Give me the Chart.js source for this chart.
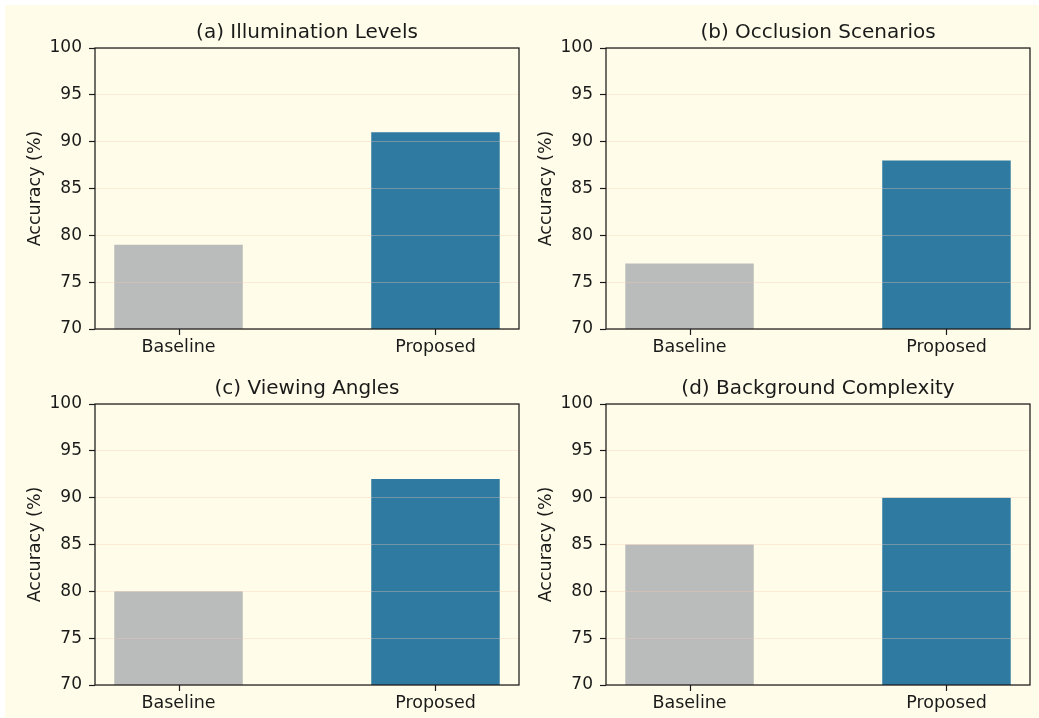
<!DOCTYPE html>
<html>
<head>
<meta charset="utf-8">
<script src="https://cdn.jsdelivr.net/npm/chart.js@4.4.1/dist/chart.umd.min.js"></script>
<style>
  html, body { margin: 0; padding: 0; background: #ffffff; }
  #bg { position: absolute; left: 5px; top: 5px; width: 1034px; height: 713px; background: #fffde9; }
  .panel { position: absolute; width: 520px; height: 357px; }
  .panel canvas { display: block; }
</style>
</head>
<body>
<div id="bg"></div>
<div class="panel" style="left:0px; top:0px;"><canvas id="c0" width="520" height="357"></canvas></div>
<div class="panel" style="left:511px; top:0px;"><canvas id="c1" width="520" height="357"></canvas></div>
<div class="panel" style="left:0px; top:356px;"><canvas id="c2" width="520" height="357"></canvas></div>
<div class="panel" style="left:511px; top:356px;"><canvas id="c3" width="520" height="357"></canvas></div>
<script>
const categories = ["Baseline", "Proposed"];
const panelTitles = ["(a) Illumination Levels", "(b) Occlusion Scenarios", "(c) Viewing Angles", "(d) Background Complexity"];
const illuminationValues = [79, 91];
const occlusionValues = [77, 88];
const viewingValues = [80, 92];
const backgroundValues = [85, 90];
const panelValues = [illuminationValues, occlusionValues, viewingValues, backgroundValues];
const yTicks = [70, 75, 80, 85, 90, 95, 100];
const yLabel = "Accuracy (%)";
const barColors = ["#b9bcbb", "#2e7aa0"];

const FONT = "'DejaVu Sans', sans-serif";
const TEXT = "#1a1a1a";

const framePlugin = {
  id: 'frame',
  afterDraw(chart) {
    const a = chart.chartArea, ctx = chart.ctx;
    ctx.save();
    ctx.strokeStyle = '#1a1a1a';
    ctx.lineWidth = 1.25;
    ctx.strokeRect(a.left, a.top, a.right - a.left, a.bottom - a.top);
    // x tick marks, placed by the x scale
    const xs = chart.scales.x;
    ctx.lineWidth = 1.2;
    xs.ticks.forEach((t, i) => {
      const px = Math.round(xs.getPixelForTick(i)) + 0.5;
      ctx.beginPath();
      ctx.moveTo(px, a.bottom);
      ctx.lineTo(px, a.bottom + 6);
      ctx.stroke();
    });
    ctx.restore();
  }
};

function makeChart(id, title, values) {
  new Chart(document.getElementById(id), {
    type: 'bar',
    data: {
      datasets: [{
        data: values.map((v, i) => ({ x: i, y: v })),
        backgroundColor: barColors,
        borderWidth: 0,
        barPercentage: 0.5,
        categoryPercentage: 1.0
      }]
    },
    options: {
      responsive: false,
      animation: false,
      devicePixelRatio: 1,
      maintainAspectRatio: false,
      layout: { padding: { left: 0, right: 1, top: 0, bottom: 0 } },
      plugins: {
        legend: { display: false },
        tooltip: { enabled: false },
        title: {
          display: true,
          text: title,
          fullSize: false,
          color: TEXT,
          font: { family: FONT, size: 20, weight: 'normal', lineHeight: 1.2 },
          padding: { top: 21, bottom: 3 }
        }
      },
      scales: {
        x: {
          type: 'linear',
          min: -0.325,
          max: 1.325,
          offset: false,
          afterBuildTicks: s => { s.ticks = categories.map((c, i) => ({ value: i })); },
          afterFit: s => { s.height = 28; },
          ticks: {
            color: TEXT,
            font: { family: FONT, size: 17.5 },
            padding: 8,
            maxRotation: 0,
            autoSkip: false,
            callback: v => categories[v]
          },
          grid: { display: false, offset: false, drawTicks: false },
          border: { display: false }
        },
        y: {
          min: 70,
          max: 100,
          afterBuildTicks: s => { s.ticks = yTicks.map(v => ({ value: v })); },
          afterFit: s => { s.width = 95; },
          ticks: {
            color: TEXT,
            font: { family: FONT, size: 17 },
            padding: 7
          },
          grid: { color: 'rgba(245,200,180,0.35)', lineWidth: 1, z: 1, tickColor: '#1a1a1a', tickLength: 6, tickWidth: 1.2 },
          border: { display: false },
          title: {
            display: true,
            text: yLabel,
            color: TEXT,
            font: { family: FONT, size: 17.5, lineHeight: 1.2 },
            padding: { top: 25, bottom: 0 }
          }
        }
      }
    },
    plugins: [framePlugin]
  });
}

panelValues.forEach((vals, i) => makeChart('c' + i, panelTitles[i], vals));
</script>
</body>
</html>
